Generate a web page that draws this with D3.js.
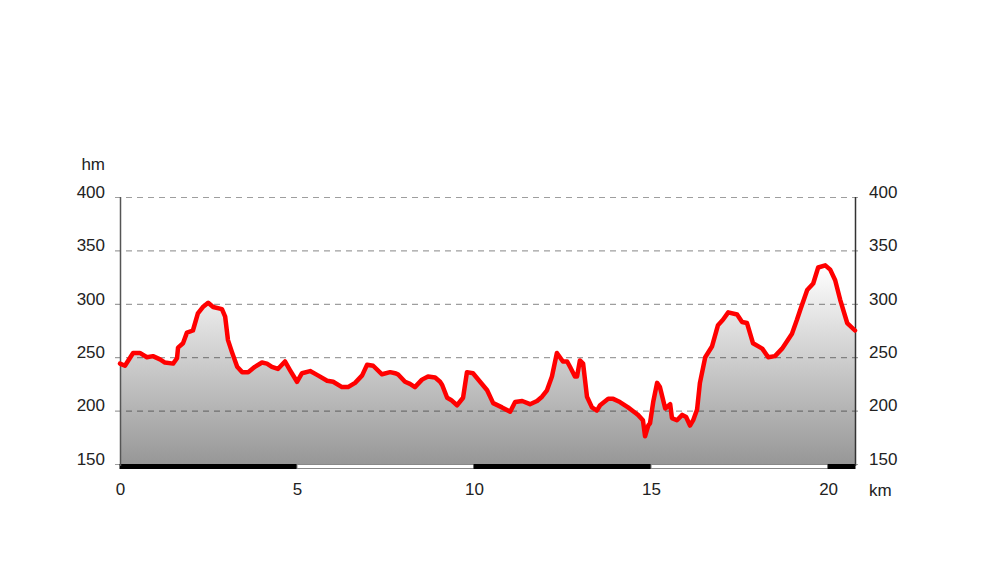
<!DOCTYPE html>
<html><head><meta charset="utf-8">
<script src="https://cdn.jsdelivr.net/npm/d3@7"></script>
<style>
html,body{margin:0;padding:0;background:#fff;}
text{font-family:"Liberation Sans",Arial,sans-serif;}
</style></head>
<body>
<svg id="chart" width="1000" height="584"></svg>
<script>
const distanceKm = [0,0.14,0.37,0.56,0.76,0.93,1.13,1.27,1.50,1.61,1.64,1.78,1.89,2.06,2.20,2.34,2.49,2.63,2.88,2.97,3.05,3.16,3.31,3.45,3.62,3.81,4.01,4.15,4.29,4.46,4.66,4.80,5.00,5.14,5.37,5.59,5.85,6.02,6.27,6.44,6.64,6.84,6.98,7.15,7.40,7.63,7.77,7.85,8.05,8.19,8.33,8.53,8.70,8.90,9.04,9.10,9.24,9.35,9.52,9.69,9.80,9.97,10.17,10.37,10.54,10.79,11.02,11.16,11.36,11.58,11.78,11.92,12.06,12.20,12.34,12.51,12.63,12.71,12.85,12.91,12.99,13.08,13.19,13.33,13.47,13.56,13.79,13.93,14.12,14.35,14.55,14.63,14.77,14.83,14.92,14.97,15.06,15.17,15.25,15.40,15.54,15.59,15.73,15.88,15.99,16.10,16.19,16.30,16.38,16.53,16.72,16.89,17.03,17.18,17.43,17.57,17.71,17.88,18.14,18.31,18.50,18.70,18.98,19.12,19.21,19.41,19.58,19.72,19.92,20.06,20.20,20.34,20.54,20.76];
const elevationM = [244,242,254,254,250,251,248,245,244,249,259,263,273,275,291,297,301,297,295,288,266,255,241,236,236,241,245,244,241,239,246,238,227,235,237,233,228,227,222,222,226,233,243,242,234,236,235,234,227,225,222,229,232,231,227,224,212,210,205,212,236,235,227,219,207,203,199,208,209,206,209,213,219,232,254,246,246,241,232,232,247,244,213,203,200,205,211,211,208,203,198,196,191,176,186,188,208,226,222,202,206,193,191,196,194,186,191,201,226,250,260,280,285,292,290,283,282,263,258,250,251,258,272,285,294,313,319,334,336,332,322,304,282,275,266];
const yTickValues = [150,200,250,300,350,400];
const xTickValues = [0,5,10,15,20];
const scaleBarBreaks = [0,5,10,15,20,20.76];

const svg = d3.select("#chart");
const x = d3.scaleLinear().domain([0,20.76]).range([120,855]);
const y = d3.scaleLinear().domain([150,400]).range([464,197]);
const pts = distanceKm.map((d,i)=>({d, e: elevationM[i]}));

const defs = svg.append("defs");
const grad = defs.append("linearGradient").attr("id","fillg")
  .attr("gradientUnits","userSpaceOnUse").attr("x1",0).attr("x2",0)
  .attr("y1", y(d3.max(elevationM))).attr("y2", y(150));
grad.append("stop").attr("offset","0%").attr("stop-color","#ffffff");
grad.append("stop").attr("offset","100%").attr("stop-color","#979797");

svg.append("path").datum(pts)
  .attr("d", d3.area().x(p=>x(p.d)).y0(y(150)).y1(p=>y(p.e)))
  .attr("fill","url(#fillg)");

// grid
svg.append("g").selectAll("line").data(yTickValues).join("line")
  .attr("x1",115).attr("x2",860)
  .attr("y1",d=>y(d)+0.5).attr("y2",d=>y(d)+0.5)
  .attr("stroke","rgba(0,0,0,0.38)").attr("stroke-width",1.2)
  .attr("stroke-dasharray","6,5");

// scale bar
svg.append("g").selectAll("rect").data(d3.range(scaleBarBreaks.length-1)).join("rect")
  .attr("x",i=>x(scaleBarBreaks[i])).attr("width",i=>x(scaleBarBreaks[i+1])-x(scaleBarBreaks[i]))
  .attr("y",464.5).attr("height",4)
  .attr("fill",i=>i%2===0?"#000":"#fff")
  .attr("stroke",i=>i%2===0?"#000":"#888").attr("stroke-width",1);

// vertical axis lines
svg.append("line").attr("x1",120.5).attr("x2",120.5).attr("y1",197).attr("y2",466)
  .attr("stroke","#555").attr("stroke-width",1.5);
svg.append("line").attr("x1",855.5).attr("x2",855.5).attr("y1",197).attr("y2",466)
  .attr("stroke","#333").attr("stroke-width",1.5);

// profile line
svg.append("path").datum(pts)
  .attr("d", d3.line().x(p=>x(p.d)).y(p=>y(p.e)))
  .attr("fill","none").attr("stroke","#ff0000").attr("stroke-width",4.5)
  .attr("stroke-linejoin","round").attr("stroke-linecap","round");

// axes labels
const fs = "17px";
const la = svg.append("g").attr("transform","translate(120,0)")
  .call(d3.axisLeft(y).tickValues(yTickValues).tickSize(0).tickPadding(15));
la.select(".domain").remove();
la.selectAll("text").attr("font-size",fs).attr("fill","#222").attr("dy","0.02em");

const ra = svg.append("g").attr("transform","translate(855,0)")
  .call(d3.axisRight(y).tickValues(yTickValues).tickSize(0).tickPadding(14));
ra.select(".domain").remove();
ra.selectAll("text").attr("font-size",fs).attr("fill","#222").attr("dy","0.02em");

const ba = svg.append("g").attr("transform","translate(0,464)")
  .call(d3.axisBottom(x).tickValues(xTickValues).tickSize(0).tickPadding(19));
ba.select(".domain").remove();
ba.selectAll("text").attr("font-size",fs).attr("fill","#222");

svg.append("text").attr("x",105).attr("y",170).attr("text-anchor","end")
  .attr("font-size",fs).attr("fill","#222").text("hm");
svg.append("text").attr("x",869).attr("y",496)
  .attr("font-size",fs).attr("fill","#222").text("km");
</script>
</body></html>
